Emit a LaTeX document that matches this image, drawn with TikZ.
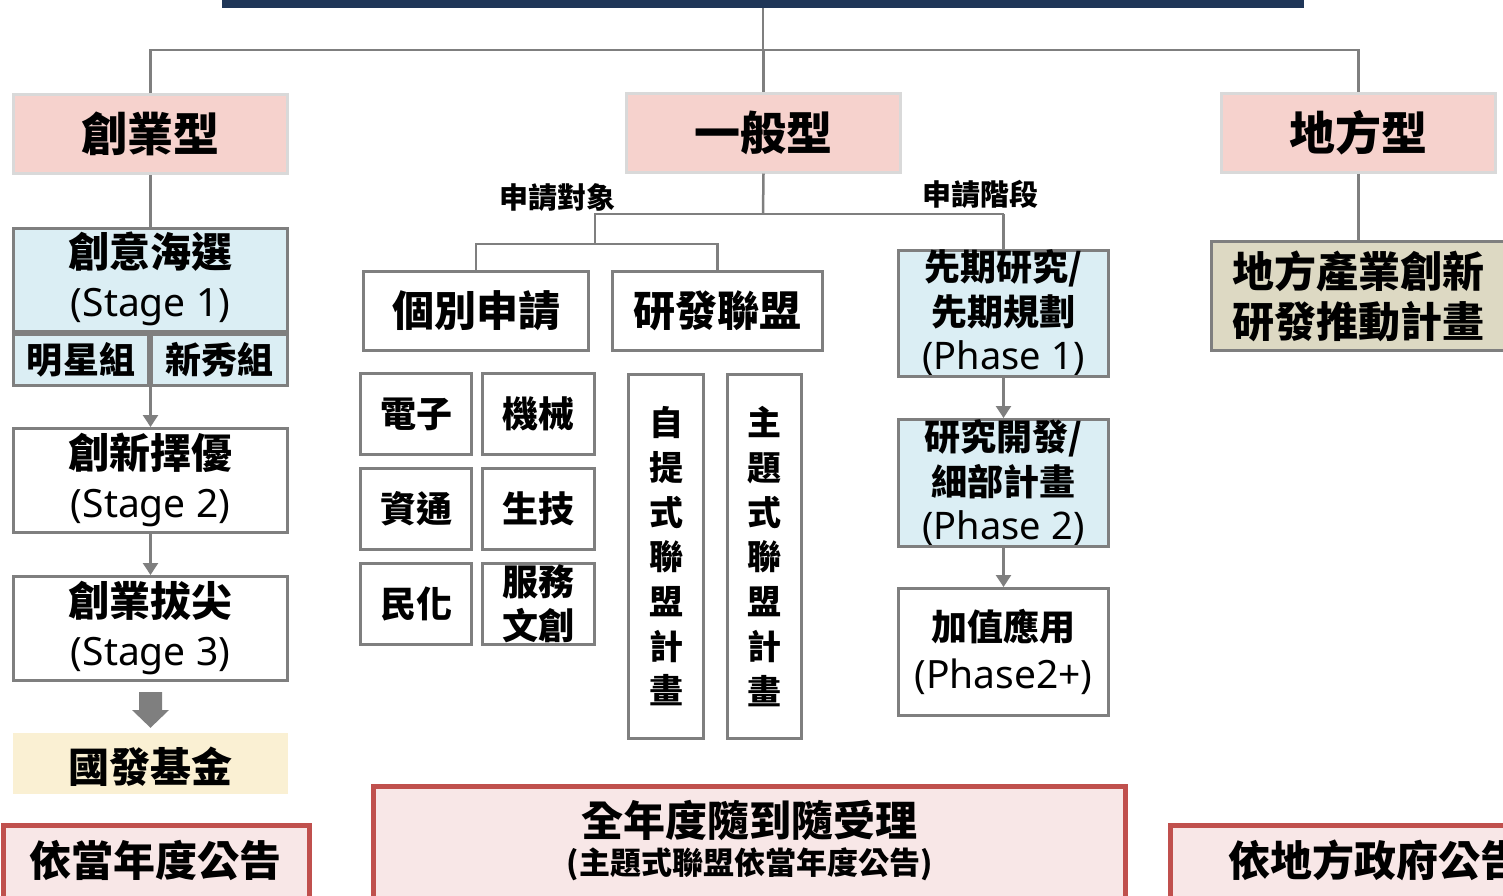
\documentclass[tikz,border=0pt]{standalone}
\usepackage{fontspec}
\setmainfont{Noto Sans CJK TC}
\newfontfamily\lat{Noto Sans}
\usetikzlibrary{arrows.meta}
\definecolor{navy}{HTML}{1F3658}
\definecolor{lgray}{HTML}{7F7F7F}
\definecolor{pinkfill}{HTML}{F6D2CD}
\definecolor{pinkdraw}{HTML}{D9D9D9}
\definecolor{bluefill}{HTML}{DBEEF4}
\definecolor{tanfill}{HTML}{DDD9C3}
\definecolor{yelfill}{HTML}{FAF0D3}
\definecolor{redfill}{HTML}{F8E7E7}
\definecolor{reddraw}{HTML}{C0504D}
\newcommand{\fs}[2]{\fontsize{#1}{#2}\selectfont\bfseries}
\newcommand{\lt}[2]{{\fontsize{#1}{#1}\selectfont\lat\mdseries #2}}
\tikzset{
  conn/.style={draw=lgray, line width=2.5pt},
  arr/.style={conn, -{Triangle[width=15pt,length=12pt]}},
  bx/.style={draw=lgray, line width=3pt, fill=white, inner sep=0pt, align=center},
  typebox/.style={draw=pinkdraw, fill=pinkfill, line width=3pt, inner sep=0pt, align=center, minimum width=274pt, minimum height=79pt, font=\fs{46}{50}},
  annbox/.style={draw=reddraw, fill=redfill, line width=5pt, inner sep=0pt},
  anntext/.style={inner sep=0pt, font=\fs{42}{46}},
  lbl/.style={inner sep=0pt, font=\fs{29}{32}},
}
\begin{document}
\begin{tikzpicture}[x=1pt,y=-1pt]
\useasboundingbox (0,0) rectangle (1503,895);
% top bar
\node[fill=navy, inner sep=0pt, minimum width=1082pt, minimum height=10pt] (bar) at (763,3) {};
% type boxes
\node[typebox] (c1) at (150.5,134) {創業型};
\node[typebox] (c2) at (763.5,132.5) {一般型};
\node[typebox] (c3) at (1358.5,132.5) {地方型};
\coordinate (j0) at (763,50);
\draw[conn] (bar.south) -- (j0);
\draw[conn] (c1.north) |- (j0) -| (c3.north);
\draw[conn] (c2.north) -- (c2.north |- j0);

% left column
\node[bx, fill=bluefill, minimum width=274pt, minimum height=103pt, font=\fs{41}{49}, text depth=11pt] (s1) at (150.5,280) {創意海選\\\lt{39}{(Stage 1)}};
\node[bx, fill=bluefill, minimum width=135pt, minimum height=51pt, font=\fs{36}{40}] (s1a) at (81,360) {明星組};
\node[bx, fill=bluefill, minimum width=136pt, minimum height=51pt, font=\fs{36}{40}] (s1b) at (219.5,360) {新秀組};
\node[bx, minimum width=274pt, minimum height=104pt, font=\fs{41}{49}, text depth=11pt] (s2) at (150.5,480.5) {創新擇優\\\lt{39}{(Stage 2)}};
\node[bx, minimum width=274pt, minimum height=104pt, font=\fs{41}{49}, text depth=11pt] (s3) at (150.5,628.5) {創業拔尖\\\lt{39}{(Stage 3)}};
\node[fill=yelfill, inner sep=0pt, minimum width=275pt, minimum height=61pt, font=\fs{41}{45}, text height=42pt, text depth=4pt] (fund) at (150.5,763.5) {國發基金};
\draw[conn] (c1.south) -- (s1.north);
\draw[arr] (s2.north |- s1a.south) -- (s2.north);
\draw[arr] (s2.south) -- (s3.north);
\fill[lgray] ([xshift=-11.5pt,yshift=-10pt]s3.south) -- ([xshift=11.5pt,yshift=-10pt]s3.south)
  -- ([xshift=11.5pt,yshift=-28pt]s3.south) -- ([xshift=18.5pt,yshift=-28pt]s3.south)
  -- ([yshift=5pt]fund.north) -- ([xshift=-18.5pt,yshift=-28pt]s3.south)
  -- ([xshift=-11.5pt,yshift=-28pt]s3.south) -- cycle;

% middle
\node[lbl] (lab1) at (557,198) {申請對象};
\node[lbl] (lab2) at (980,194) {申請階段};
\node[bx, minimum width=225pt, minimum height=79pt, font=\fs{42}{46}] (ind) at (476,311) {個別申請};
\node[bx, minimum width=210pt, minimum height=79pt, font=\fs{42}{46}] (alli) at (717.5,311) {研發聯盟};
\coordinate (j1) at (763,214);
\coordinate (j1l) at (595,214);
\coordinate (j1r) at (1003.5,214);
\coordinate (j2) at (595,244);
\draw[conn] (c2.south) -- (j1);
\draw[conn] (j2) -- (j1l) -- (j1r);
\draw[conn] (ind.north) |- (j2) -| (alli.north);

\tikzset{sm/.style={bx, minimum width=111pt, minimum height=81pt, font=\fs{36}{38}}}
\node[sm] (e1) at (416,414) {電子};
\node[sm, minimum width=112pt] (e2) at (538.5,414) {機械};
\node[sm] (e3) at (416,509) {資通};
\node[sm, minimum width=112pt] (e4) at (538.5,509) {生技};
\node[sm] (e5) at (416,604) {民化};
\node[sm, minimum width=112pt, font=\fs{36}{44}] (e6) at (538.5,604) {服務\\文創};

\node[bx, minimum width=75pt, minimum height=364pt, font=\fs{34}{44.7}] (v1) at (666,556.5) {自\\提\\式\\聯\\盟\\計\\畫};
\node[bx, minimum width=74pt, minimum height=364pt, font=\fs{34}{44.7}] (v2) at (764.5,556.5) {主\\題\\式\\聯\\盟\\計\\畫};

% phases
\node[bx, fill=bluefill, minimum width=210pt, minimum height=126pt, font=\fs{36}{44.5}] (p1) at (1003.5,313) {先期研究/\\先期規劃\\\lt{38}{(Phase 1)}};
\node[bx, fill=bluefill, minimum width=210pt, minimum height=127pt, font=\fs{36}{44.5}] (p2) at (1003.5,483) {研究開發/\\細部計畫\\\lt{38}{(Phase 2)}};
\node[bx, minimum width=210pt, minimum height=127pt, font=\fs{36}{48}] (p3) at (1003.5,652) {加值應用\\\lt{39}{(Phase2+)}};
\draw[conn] (j1r) -- (p1.north);
\draw[arr] (p1.south) -- (p2.north);
\draw[arr] (p2.south) -- (p3.north);

% local
\node[bx, fill=tanfill, minimum width=293pt, minimum height=109pt, font=\fs{42}{50}] (loc) at (1358,296) {地方產業創新\\研發推動計畫};
\draw[conn] (c3.south) -- (c3.south |- loc.north);

% announcements
\node[annbox, minimum width=306pt, minimum height=80pt] (a1) at (156,865) {};
\node[anntext] (a1t) at (155,860) {依當年度公告};
\node[annbox, minimum width=752pt, minimum height=120pt] (a2) at (749.5,846) {};
\node[anntext] (a2t) at (749.5,820) {全年度隨到隨受理};
\node[inner sep=0pt, font=\fs{31}{34}] (a2s) at (749.5,864) {(主題式聯盟依當年度公告)};
\node[annbox, minimum width=350pt, minimum height=80pt] (a3) at (1345,865) {};
\node[anntext, anchor=west] (a3t) at (1228,860) {依地方政府公告};
\end{tikzpicture}
\end{document}
